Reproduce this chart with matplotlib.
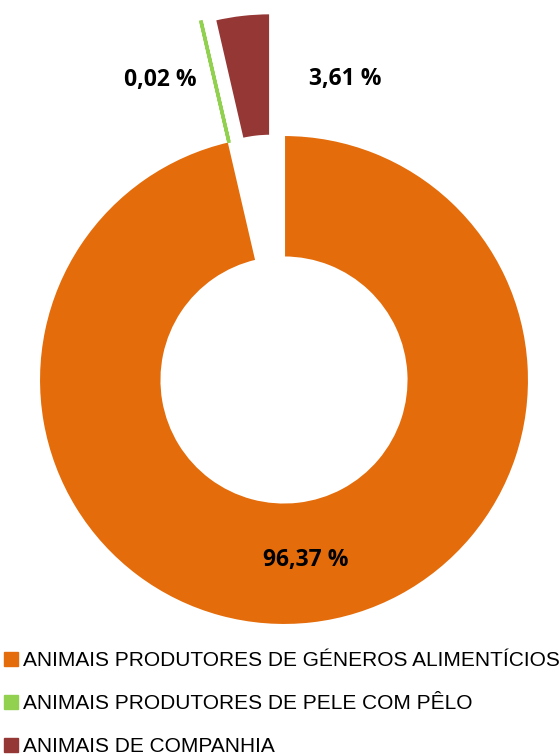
import matplotlib
matplotlib.use("Agg")
import matplotlib.pyplot as plt
from matplotlib.lines import Line2D

categories = ["ANIMAIS PRODUTORES DE GÉNEROS ALIMENTÍCIOS",
              "ANIMAIS PRODUTORES DE PELE COM PÊLO",
              "ANIMAIS DE COMPANHIA"]
values = [96.37, 0.02, 3.61]
colors = ["#E46C0A", "#92D050", "#953735"]
explode_frac = [0.0, 0.5, 0.5]

W, H = 560, 756
fig = plt.figure(figsize=(W / 100, H / 100), dpi=100)
ax = fig.add_axes([0, 0, 1, 1])
ax.set_xlim(0, W)
ax.set_ylim(0, H)
ax.set_aspect("equal")
ax.axis("off")

cx, cy, R = 284, H - 380, 245
wedges, _ = ax.pie(values, colors=colors, explode=[e * R for e in explode_frac],
                   startangle=90, counterclock=False, radius=R, center=(cx, cy),
                   wedgeprops=dict(width=R * 0.5, edgecolor="white", linewidth=1.5))
wedges[1].set_edgecolor(colors[1])
wedges[1].set_linewidth(2.5)
ax.set_xlim(0, W)
ax.set_ylim(0, H)

def fmt(v):
    return f"{v:.2f}".replace(".", ",") + " %"

label_pos = [(306, H - 560), (160, H - 80), (345, H - 79)]
for v, (x, y) in zip(values, label_pos):
    ax.text(x, y, fmt(v), ha="center", va="center", fontsize=16.5,
            fontweight="bold", family="Open Sans", color="black")

handles = [Line2D([], [], marker="s", linestyle="none", markersize=9.5,
                  markerfacecolor=c, markeredgecolor=c) for c in colors]
leg = fig.legend(handles, categories, loc="upper left",
                 bbox_to_anchor=(0.005, 1 - 651 / H), frameon=False,
                 prop=dict(family="Liberation Sans", size=15),
                 handlelength=0.8, handletextpad=0.15, labelspacing=1.15,
                 borderaxespad=0, borderpad=0.0)

fig.savefig("out.png", dpi=100)
